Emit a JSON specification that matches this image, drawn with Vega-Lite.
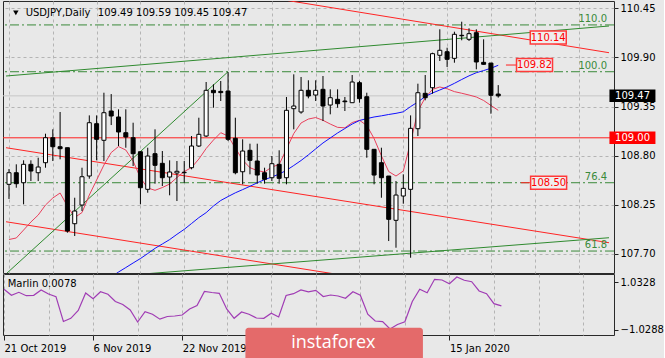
{
  "$schema": "https://vega.github.io/schema/vega-lite/v6.json",
  "background": "#e8e8e8",
  "padding": {"left": 2, "top": 0, "right": 0, "bottom": 0},
  "spacing": 1,
  "bounds": "flush",
  "config": {
    "view": {"stroke": "#2a2a2a", "strokeWidth": 1, "fill": "#e8e8e8"},
    "font": "DejaVu Sans",
    "axis": {"labelFont": "DejaVu Sans", "labelFontSize": 10, "labelColor": "#000000", "tickColor": "#222222", "domain": false, "gridColor": "#b4b4b4", "gridDash": [3, 3], "gridWidth": 1}
  },
  "datasets": {
    "bars": [
      {"i":0,"o":108.479,"h":108.650,"l":108.315,"c":108.609,"maf":107.861,"mas":null,"mar":0.728},
      {"i":1,"o":108.609,"h":108.703,"l":108.441,"c":108.486,"maf":107.878,"mas":null,"mar":0.466},
      {"i":2,"o":108.497,"h":108.748,"l":108.255,"c":108.703,"maf":107.967,"mas":null,"mar":0.597},
      {"i":3,"o":108.703,"h":108.748,"l":108.516,"c":108.628,"maf":108.057,"mas":null,"mar":0.449},
      {"i":4,"o":108.609,"h":108.777,"l":108.516,"c":108.673,"maf":108.135,"mas":null,"mar":0.466},
      {"i":5,"o":108.721,"h":109.046,"l":108.665,"c":109.001,"maf":108.247,"mas":null,"mar":0.697},
      {"i":6,"o":109.001,"h":109.095,"l":108.740,"c":108.900,"maf":108.326,"mas":null,"mar":0.523},
      {"i":7,"o":108.900,"h":109.289,"l":108.759,"c":108.878,"maf":108.382,"mas":null,"mar":0.405},
      {"i":8,"o":108.889,"h":108.889,"l":107.937,"c":107.956,"maf":108.236,"mas":null,"mar":-0.675},
      {"i":9,"o":108.038,"h":108.329,"l":107.900,"c":108.180,"maf":108.107,"mas":null,"mar":-0.536},
      {"i":10,"o":108.247,"h":108.665,"l":108.180,"c":108.564,"maf":108.163,"mas":null,"mar":-0.196},
      {"i":11,"o":108.572,"h":109.251,"l":108.542,"c":109.169,"maf":108.359,"mas":null,"mar":0.566},
      {"i":12,"o":109.158,"h":109.251,"l":108.748,"c":108.983,"maf":108.527,"mas":null,"mar":0.318},
      {"i":13,"o":108.972,"h":109.505,"l":108.740,"c":109.281,"maf":108.695,"mas":null,"mar":0.623},
      {"i":14,"o":109.300,"h":109.490,"l":109.143,"c":109.244,"maf":108.835,"mas":107.441,"mar":0.510},
      {"i":15,"o":109.233,"h":109.319,"l":108.908,"c":109.065,"maf":108.902,"mas":107.497,"mar":0.196},
      {"i":16,"o":109.057,"h":109.319,"l":108.889,"c":109.009,"maf":108.863,"mas":107.547,"mar":0.065},
      {"i":17,"o":109.001,"h":109.169,"l":108.684,"c":108.822,"maf":108.740,"mas":107.598,"mar":-0.174},
      {"i":18,"o":108.844,"h":108.844,"l":108.255,"c":108.441,"maf":108.550,"mas":107.648,"mar":-0.697},
      {"i":19,"o":108.423,"h":108.889,"l":108.385,"c":108.796,"maf":108.438,"mas":107.704,"mar":-0.248},
      {"i":20,"o":108.822,"h":109.095,"l":108.486,"c":108.692,"maf":108.412,"mas":107.762,"mar":-0.362},
      {"i":21,"o":108.714,"h":108.852,"l":108.460,"c":108.553,"maf":108.443,"mas":107.811,"mar":-0.575},
      {"i":22,"o":108.561,"h":108.748,"l":108.356,"c":108.617,"maf":108.482,"mas":107.860,"mar":-0.458},
      {"i":23,"o":108.606,"h":108.740,"l":108.292,"c":108.625,"maf":108.555,"mas":107.919,"mar":-0.436},
      {"i":24,"o":108.609,"h":108.740,"l":108.497,"c":108.614,"maf":108.622,"mas":107.975,"mar":-0.392},
      {"i":25,"o":108.665,"h":109.020,"l":108.647,"c":108.908,"maf":108.667,"mas":108.040,"mar":-0.131},
      {"i":26,"o":108.908,"h":109.225,"l":108.897,"c":109.039,"maf":108.762,"mas":108.106,"mar":0.022},
      {"i":27,"o":109.020,"h":109.625,"l":109.009,"c":109.532,"maf":108.880,"mas":108.162,"mar":0.632},
      {"i":28,"o":109.532,"h":109.599,"l":109.337,"c":109.505,"maf":108.975,"mas":108.236,"mar":0.588},
      {"i":29,"o":109.520,"h":109.636,"l":109.412,"c":109.506,"maf":109.057,"mas":108.298,"mar":0.553},
      {"i":30,"o":109.524,"h":109.737,"l":108.964,"c":108.983,"maf":109.020,"mas":108.342,"mar":-0.131},
      {"i":31,"o":108.994,"h":109.225,"l":108.591,"c":108.609,"maf":108.886,"mas":108.384,"mar":-0.536},
      {"i":32,"o":108.620,"h":108.983,"l":108.479,"c":108.852,"maf":108.751,"mas":108.420,"mar":-0.261},
      {"i":33,"o":108.860,"h":108.934,"l":108.591,"c":108.748,"maf":108.665,"mas":108.457,"mar":-0.357},
      {"i":34,"o":108.740,"h":108.934,"l":108.486,"c":108.583,"maf":108.633,"mas":108.496,"mar":-0.523},
      {"i":35,"o":108.609,"h":108.665,"l":108.486,"c":108.535,"maf":108.617,"mas":108.532,"mar":-0.536},
      {"i":36,"o":108.553,"h":108.796,"l":108.516,"c":108.710,"maf":108.673,"mas":108.561,"mar":-0.314},
      {"i":37,"o":108.703,"h":108.860,"l":108.486,"c":108.546,"maf":108.701,"mas":108.594,"mar":-0.479},
      {"i":38,"o":108.553,"h":109.457,"l":108.479,"c":109.308,"maf":108.874,"mas":108.636,"mar":0.458},
      {"i":39,"o":109.326,"h":109.711,"l":109.095,"c":109.356,"maf":109.048,"mas":108.690,"mar":0.536},
      {"i":40,"o":109.289,"h":109.681,"l":109.270,"c":109.532,"maf":109.166,"mas":108.746,"mar":0.697},
      {"i":41,"o":109.532,"h":109.644,"l":109.442,"c":109.468,"maf":109.210,"mas":108.809,"mar":0.619},
      {"i":42,"o":109.479,"h":109.644,"l":109.412,"c":109.532,"maf":109.227,"mas":108.876,"mar":0.684},
      {"i":43,"o":109.543,"h":109.692,"l":109.188,"c":109.356,"maf":109.196,"mas":108.942,"mar":0.414},
      {"i":44,"o":109.367,"h":109.543,"l":109.263,"c":109.449,"maf":109.154,"mas":108.998,"mar":0.479},
      {"i":45,"o":109.431,"h":109.543,"l":109.337,"c":109.382,"maf":109.117,"mas":109.054,"mar":0.436},
      {"i":46,"o":109.412,"h":109.457,"l":109.300,"c":109.404,"maf":109.112,"mas":109.104,"mar":0.336},
      {"i":47,"o":109.393,"h":109.703,"l":109.393,"c":109.625,"maf":109.171,"mas":109.154,"mar":0.623},
      {"i":48,"o":109.617,"h":109.636,"l":109.393,"c":109.438,"maf":109.196,"mas":109.194,"mar":0.471},
      {"i":49,"o":109.460,"h":109.505,"l":108.777,"c":108.871,"maf":109.138,"mas":109.215,"mar":-0.357},
      {"i":50,"o":108.871,"h":108.871,"l":108.479,"c":108.583,"maf":108.992,"mas":109.233,"mar":-0.654},
      {"i":51,"o":108.721,"h":108.889,"l":108.329,"c":108.553,"maf":108.799,"mas":109.246,"mar":-0.684},
      {"i":52,"o":108.572,"h":108.572,"l":107.844,"c":108.087,"maf":108.622,"mas":109.261,"mar":-1.002},
      {"i":53,"o":108.076,"h":108.516,"l":107.769,"c":108.359,"maf":108.572,"mas":109.274,"mar":-0.806},
      {"i":54,"o":108.348,"h":108.591,"l":108.262,"c":108.434,"maf":108.628,"mas":109.291,"mar":-0.684},
      {"i":55,"o":108.423,"h":109.251,"l":107.657,"c":109.106,"maf":108.953,"mas":109.350,"mar":0.196},
      {"i":56,"o":109.102,"h":109.606,"l":109.020,"c":109.505,"maf":109.300,"mas":109.401,"mar":0.728},
      {"i":57,"o":109.498,"h":109.703,"l":109.420,"c":109.449,"maf":109.449,"mas":109.462,"mar":0.580},
      {"i":58,"o":109.561,"h":109.953,"l":109.494,"c":109.942,"maf":109.543,"mas":109.502,"mar":1.163},
      {"i":59,"o":109.924,"h":110.215,"l":109.860,"c":109.980,"maf":109.569,"mas":109.535,"mar":1.133},
      {"i":60,"o":109.964,"h":110.009,"l":109.793,"c":109.879,"maf":109.549,"mas":109.570,"mar":0.972},
      {"i":61,"o":109.890,"h":110.188,"l":109.841,"c":110.159,"maf":109.517,"mas":109.610,"mar":1.264},
      {"i":62,"o":110.148,"h":110.300,"l":110.092,"c":110.143,"maf":109.499,"mas":109.653,"mar":1.120},
      {"i":63,"o":110.103,"h":110.226,"l":110.084,"c":110.166,"maf":109.479,"mas":109.694,"mar":1.059},
      {"i":64,"o":110.177,"h":110.215,"l":109.767,"c":109.849,"maf":109.457,"mas":109.729,"mar":0.654},
      {"i":65,"o":109.845,"h":110.103,"l":109.820,"c":109.823,"maf":109.418,"mas":109.753,"mar":0.536},
      {"i":66,"o":109.837,"h":109.837,"l":109.270,"c":109.476,"maf":109.362,"mas":109.779,"mar":0.100},
      {"i":67,"o":109.49,"h":109.59,"l":109.45,"c":109.47,"maf":109.308,"mas":109.812,"mar":0.0078}
    ],
    "trend": [
      {"id":"r1","kind":"red","i":33.29,"p":110.602},
      {"id":"r1","kind":"red","i":82.17,"p":109.953},
      {"id":"r2","kind":"red","i":-0.404,"p":108.889},
      {"id":"r2","kind":"red","i":82.17,"p":107.825},
      {"id":"r3","kind":"red","i":-0.404,"p":108.060},
      {"id":"r3","kind":"red","i":53.5,"p":107.360},
      {"id":"g1","kind":"green","i":-0.404,"p":109.692},
      {"id":"g1","kind":"green","i":82.17,"p":110.252},
      {"id":"g2","kind":"green","i":13.07,"p":107.441},
      {"id":"g2","kind":"green","i":82.17,"p":107.881},
      {"id":"f1","kind":"green","i":-1.08,"p":107.425},
      {"id":"f1","kind":"green","i":30,"p":109.740}
    ],
    "fib": [
      {"level":"110.0","p":110.264},
      {"level":"100.0","p":109.740},
      {"level":"76.4","p":108.497},
      {"level":"61.8","p":107.732}
    ],
    "plabels": [
      {"label":"110.14","i":73.85,"p":110.123},
      {"label":"109.82","i":71.97,"p":109.815},
      {"label":"108.50","i":73.9,"p":108.497}
    ],
    "leaders": [
      {"i":68.06,"i2":69.5,"p":109.815},
      {"i":70.1,"i2":71.4,"p":108.497}
    ],
    "axlabels": [
      {"label":"109.47","kind":"bid","p":109.47},
      {"label":"109.00","kind":"level","p":109.00}
    ],
    "hlines": [
      {"kind":"bid","p":109.47},
      {"kind":"level","p":109.00}
    ],
    "title": [
      {"t":"USDJPY,Daily","i":2.29},
      {"t":"109.49 109.59 109.45 109.47","i":12.17}
    ],
    "notes": [
      {"t":"Marlin 0.0078"}
    ],
    "logo": [
      {"t":"instaforex"}
    ]
  },
  "vconcat": [
    {
      "width": 611,
      "height": 272,
      "layer": [
        {
          "data": {"name": "fib"},
          "mark": {"type": "rule", "stroke": "#3a8a3a", "strokeWidth": 1, "strokeDash": [9, 3, 2, 3]},
          "encoding": {
            "y": {"field": "p", "type": "quantitative", "title": null, "scale": {"domain": [107.486, 110.532], "nice": false, "zero": false}}
          }
        },
        {
          "data": {"name": "hlines"},
          "mark": {"type": "rule", "strokeWidth": 1},
          "encoding": {
            "y": {"field": "p", "type": "quantitative", "title": null},
            "stroke": {"field": "kind", "type": "nominal", "scale": {"domain": ["bid", "level"], "range": ["#c6c6c6", "#ff2020"]}, "legend": null}
          }
        },
        {
          "data": {"name": "trend"},
          "mark": {"type": "line", "strokeWidth": 1, "clip": true},
          "encoding": {
            "x": {"field": "i", "type": "quantitative", "title": null, "scale": {"domain": [-0.135, 82.17], "nice": false, "zero": false}},
            "y": {"field": "p", "type": "quantitative", "title": null},
            "detail": {"field": "id"},
            "color": {"field": "kind", "type": "nominal", "scale": {"domain": ["red", "green"], "range": ["#ff2424", "#2f8a2f"]}, "legend": null}
          }
        },
        {
          "data": {"name": "fib"},
          "mark": {"type": "text", "align": "right", "baseline": "alphabetic", "dy": -3, "fontSize": 10, "font": "DejaVu Sans", "color": "#3a8a3a"},
          "encoding": {
            "x": {"datum": 81.9, "type": "quantitative"},
            "y": {"field": "p", "type": "quantitative", "title": null},
            "text": {"field": "level"}
          }
        },
        {
          "data": {"name": "bars"},
          "mark": {"type": "line", "stroke": "#e8405c", "strokeWidth": 1, "clip": true},
          "encoding": {
            "x": {"field": "i", "type": "quantitative", "title": null},
            "y": {"field": "maf", "type": "quantitative", "title": null}
          }
        },
        {
          "data": {"name": "bars"},
          "transform": [{"filter": "datum.mas != null"}],
          "mark": {"type": "line", "stroke": "#1010ff", "strokeWidth": 1, "clip": true},
          "encoding": {
            "x": {"field": "i", "type": "quantitative", "title": null},
            "y": {"field": "mas", "type": "quantitative", "title": null}
          }
        },
        {
          "data": {"name": "bars"},
          "mark": {"type": "rule", "stroke": "#000000", "strokeWidth": 1, "clip": true},
          "encoding": {
            "x": {"field": "i", "type": "quantitative", "title": null,
                  "axis": {"orient": "bottom", "values": [0, 6, 12, 18, 24, 30, 36, 42, 48, 54, 60, 66, 72, 78], "labels": false, "ticks": false, "grid": true, "domain": false}},
            "y": {"field": "l", "type": "quantitative", "title": null,
                  "axis": {"orient": "right", "values": [107.70, 108.25, 108.80, 109.35, 109.90, 110.45], "format": ".2f", "tickSize": 4, "labelPadding": 2, "grid": true, "domain": false}},
            "y2": {"field": "h"}
          }
        },
        {
          "data": {"name": "bars"},
          "mark": {"type": "bar", "width": 4, "stroke": "#000000", "strokeWidth": 1, "clip": true},
          "encoding": {
            "x": {"field": "i", "type": "quantitative", "title": null},
            "y": {"field": "o", "type": "quantitative", "title": null},
            "y2": {"field": "c"},
            "fill": {"condition": {"test": "datum.c >= datum.o", "value": "#ffffff"}, "value": "#000000"}
          }
        },
        {
          "data": {"name": "leaders"},
          "mark": {"type": "rule", "stroke": "#ff2020", "strokeWidth": 1},
          "encoding": {
            "x": {"field": "i", "type": "quantitative", "title": null},
            "x2": {"field": "i2"},
            "y": {"field": "p", "type": "quantitative", "title": null}
          }
        },
        {
          "data": {"name": "plabels"},
          "mark": {"type": "point", "shape": "M-1,-0.361L1,-0.361L1,0.361L-1,0.361Z", "size": 1296, "filled": true, "opacity": 1, "fill": "#eeeeee", "stroke": "#ff3a3a", "strokeWidth": 1.5},
          "encoding": {
            "x": {"field": "i", "type": "quantitative", "title": null},
            "y": {"field": "p", "type": "quantitative", "title": null}
          }
        },
        {
          "data": {"name": "plabels"},
          "mark": {"type": "text", "align": "center", "baseline": "middle", "fontSize": 10, "font": "DejaVu Sans", "color": "#ff0000"},
          "encoding": {
            "x": {"field": "i", "type": "quantitative", "title": null},
            "y": {"field": "p", "type": "quantitative", "title": null},
            "text": {"field": "label"}
          }
        },
        {
          "data": {"name": "axlabels"},
          "mark": {"type": "point", "shape": "M-1,-0.272L1,-0.272L1,0.272L-1,0.272Z", "size": 2116, "filled": true, "opacity": 1, "strokeWidth": 0, "clip": false},
          "encoding": {
            "x": {"datum": 85.38, "type": "quantitative"},
            "y": {"field": "p", "type": "quantitative", "title": null},
            "fill": {"field": "kind", "type": "nominal", "scale": {"domain": ["bid", "level"], "range": ["#000000", "#ff0000"]}, "legend": null}
          }
        },
        {
          "data": {"name": "axlabels"},
          "mark": {"type": "text", "align": "left", "baseline": "middle", "fontSize": 10, "font": "DejaVu Sans", "color": "#ffffff", "clip": false},
          "encoding": {
            "x": {"datum": 83.0, "type": "quantitative"},
            "y": {"field": "p", "type": "quantitative", "title": null},
            "text": {"field": "label"}
          }
        },
        {
          "data": {"name": "notes"},
          "mark": {"type": "point", "shape": "triangle-down", "size": 30, "filled": true, "opacity": 1, "fill": "#000000", "strokeWidth": 0},
          "encoding": {
            "x": {"datum": 0.94, "type": "quantitative"},
            "y": {"datum": 110.40, "type": "quantitative"}
          }
        },
        {
          "data": {"name": "title"},
          "mark": {"type": "text", "align": "left", "baseline": "middle", "fontSize": 10, "font": "DejaVu Sans", "color": "#000000"},
          "encoding": {
            "x": {"field": "i", "type": "quantitative", "title": null},
            "y": {"datum": 110.397, "type": "quantitative"},
            "text": {"field": "t"}
          }
        }
      ]
    },
    {
      "width": 611,
      "height": 61,
      "layer": [
        {
          "data": {"name": "bars"},
          "mark": {"type": "line", "stroke": "#a03cb4", "strokeWidth": 1.2, "clip": true},
          "encoding": {
            "x": {"field": "i", "type": "quantitative", "title": null,
                  "scale": {"domain": [-0.135, 82.17], "nice": false, "zero": false},
                  "axis": {"orient": "bottom", "values": [0, 6, 12, 18, 24, 30, 36, 42, 48, 54, 60, 66, 72, 78],
                           "labelExpr": "datum.value == 0 ? '21 Oct 2019' : datum.value == 12 ? '6 Nov 2019' : datum.value == 24 ? '22 Nov 2019' : datum.value == 60 ? '15 Jan 2020' : ''",
                           "labelAlign": "left", "labelBaseline": "top", "labelPadding": 3, "tickSize": 5,
                           "tickOpacity": {"condition": {"test": "datum.value % 12 == 0 && datum.value <= 60", "value": 1}, "value": 0},
                           "grid": true, "domain": false, "labelOverlap": false, "labelFlush": false, "labelBound": false}},
            "y": {"field": "mar", "type": "quantitative", "title": null,
                  "scale": {"domain": [-1.264, 1.394], "nice": false, "zero": false},
                  "axis": {"orient": "right", "values": [1.0328, 0, -1.0288],
                           "labelExpr": "datum.value == 0 ? '0.00' : format(datum.value, '.4f')",
                           "tickSize": 4, "labelPadding": 2, "grid": true, "domain": false,
                           "gridOpacity": {"condition": {"test": "datum.value == 0", "value": 1}, "value": 0}}}
          }
        },
        {
          "data": {"name": "notes"},
          "mark": {"type": "text", "align": "left", "baseline": "middle", "fontSize": 10, "font": "DejaVu Sans", "color": "#000000"},
          "encoding": {
            "x": {"datum": 0.5, "type": "quantitative"},
            "y": {"datum": 0.946, "type": "quantitative"},
            "text": {"field": "t"}
          }
        },
        {
          "data": {"name": "logo"},
          "mark": {"type": "rect", "fill": "#e46a6a", "cornerRadius": 3, "clip": false},
          "encoding": {
            "x": {"datum": 32.52, "type": "quantitative"},
            "x2": {"datum": 56.43},
            "y": {"datum": -0.946, "type": "quantitative"},
            "y2": {"datum": -2.45}
          }
        },
        {
          "data": {"name": "logo"},
          "mark": {"type": "text", "align": "left", "baseline": "middle", "fontSize": 18, "font": "Open Sans", "color": "#ffffff", "clip": false},
          "encoding": {
            "x": {"datum": 38.68, "type": "quantitative"},
            "y": {"datum": -1.6, "type": "quantitative"},
            "text": {"field": "t"}
          }
        }
      ]
    }
  ]
}
